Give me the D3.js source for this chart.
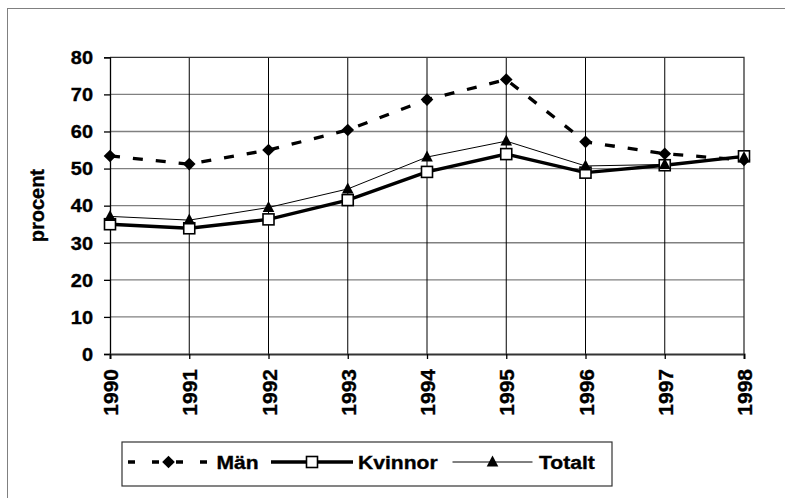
<!DOCTYPE html>
<html>
<head>
<meta charset="utf-8">
<script src="https://cdn.jsdelivr.net/npm/d3@7/dist/d3.min.js"></script>
<style>
  html, body { margin: 0; padding: 0; background: #fff; }
  svg { display: block; }
  text { font-family: "Liberation Sans", Arial, sans-serif; font-weight: bold; fill: #000; stroke: #000; stroke-width: 0.35px; }
</style>
</head>
<body>
<svg id="chart" width="785" height="498"></svg>
<script>
// Years on the category axis
const years = ["1990", "1991", "1992", "1993", "1994", "1995", "1996", "1997", "1998"];
// Share in percent per group
const man     = [53.4, 51.2, 55.0, 60.4, 68.6, 74.0, 57.2, 54.0, 52.3];
const kvinnor = [35.0, 33.9, 36.3, 41.5, 49.1, 53.9, 48.9, 50.9, 53.3];
const totalt  = [37.1, 36.1, 39.5, 44.5, 53.1, 57.4, 50.7, 51.1, 53.0];
const yTicks  = [0, 10, 20, 30, 40, 50, 60, 70, 80];
const seriesNames = ["Män", "Kvinnor", "Totalt"];

const svg = d3.select("#chart");
const plot = { left: 110, top: 57.3, right: 744, bottom: 354 };

// outer chart frame (runs off the right and bottom edges)
svg.append("rect")
  .attr("x", 7.5).attr("y", 8.5).attr("width", 900).attr("height", 600)
  .attr("fill", "#fff").attr("stroke", "#808080").attr("stroke-width", 1);

const x = d3.scalePoint().domain(years).range([plot.left, plot.right]).padding(0);
const y = d3.scaleLinear().domain([0, 80]).range([plot.bottom, plot.top]);

// horizontal gridlines
svg.append("g")
  .selectAll("line").data(yTicks.filter(t => t > 0 && t < 80)).join("line")
  .attr("x1", plot.left).attr("x2", plot.right)
  .attr("y1", d => y(d)).attr("y2", d => y(d))
  .attr("stroke", "#808080").attr("stroke-width", 1.3);

// vertical gridlines
svg.append("g")
  .selectAll("line").data(years.slice(1, -1)).join("line")
  .attr("x1", d => x(d)).attr("x2", d => x(d))
  .attr("y1", plot.top).attr("y2", plot.bottom)
  .attr("stroke", "#000").attr("stroke-width", 1);

// plot frame: top and right
svg.append("path")
  .attr("d", `M${plot.left},${plot.top}H${plot.right}V${plot.bottom}`)
  .attr("fill", "none").attr("stroke", "#333").attr("stroke-width", 1.3);

// y axis
const yAxis = svg.append("g")
  .attr("transform", `translate(${plot.left},0)`)
  .call(d3.axisLeft(y).tickValues(yTicks).tickSize(6).tickPadding(0).tickFormat(d3.format("d")));
yAxis.select(".domain").attr("stroke", "#000").attr("stroke-width", 1.3);
yAxis.selectAll(".tick line").attr("stroke", "#000").attr("stroke-width", 1.3);
yAxis.selectAll(".tick text")
  .attr("font-size", 17.5).attr("font-family", null)
  .attr("x", null).attr("dy", "0.36em")
  .attr("transform", "translate(-17,0) scale(1.14,1)");

// x axis
const xAxis = svg.append("g")
  .attr("transform", `translate(0,${plot.bottom})`)
  .call(d3.axisBottom(x).tickSize(5).tickPadding(0));
xAxis.select(".domain").attr("stroke", "#333").attr("stroke-width", 2);
xAxis.selectAll(".tick line").attr("stroke", "#000").attr("stroke-width", 1.3);
xAxis.selectAll(".tick text")
  .attr("font-size", 21).attr("font-family", null)
  .attr("y", null).attr("dy", null)
  .attr("text-anchor", "end")
  .attr("dominant-baseline", "central")
  .attr("transform", "translate(0,15) rotate(-90)");

// y axis title
svg.append("text")
  .attr("transform", `translate(37,${(plot.top + plot.bottom) / 2}) rotate(-90)`)
  .attr("text-anchor", "middle").attr("dominant-baseline", "central")
  .attr("font-size", 20)
  .text("procent");

const line = d3.line().x((d, i) => x(years[i])).y(d => y(d));

// marker shapes
const diamond = (g, cx, cy) => g.append("path")
  .attr("d", `M${cx},${cy - 6.3}L${cx + 6.3},${cy}L${cx},${cy + 6.3}L${cx - 6.3},${cy}Z`)
  .attr("fill", "#000");
const square = (g, cx, cy) => g.append("rect")
  .attr("x", cx - 5.5).attr("y", cy - 5.5).attr("width", 11).attr("height", 11)
  .attr("fill", "#fff").attr("stroke", "#000").attr("stroke-width", 1.6);
const triangle = (g, cx, cy) => g.append("path")
  .attr("d", `M${cx},${cy - 6.5}L${cx + 5.8},${cy + 4.5}L${cx - 5.8},${cy + 4.5}Z`)
  .attr("fill", "#000");

const series = [
  { name: seriesNames[0], values: man,     width: 3.3, dash: "10,13", marker: diamond },
  { name: seriesNames[1], values: kvinnor, width: 3.4, dash: null,    marker: square },
  { name: seriesNames[2], values: totalt,  width: 1,   dash: null,    marker: triangle }
];

series.forEach(s => {
  svg.append("path").datum(s.values)
    .attr("d", line).attr("fill", "none")
    .attr("stroke", "#000").attr("stroke-width", s.width)
    .attr("stroke-dasharray", s.dash);
});
series.forEach(s => {
  const g = svg.append("g");
  s.values.forEach((v, i) => s.marker(g, x(years[i]), y(v)));
});

// legend
const leg = svg.append("g");
leg.append("rect")
  .attr("x", 122).attr("y", 442).attr("width", 490).attr("height", 44)
  .attr("fill", "#fff").attr("stroke", "#333").attr("stroke-width", 1.2);

const legItems = [
  { s: series[0], x1: 128, x2: 209, tx: 216.5 },
  { s: series[1], x1: 271, x2: 353, tx: 358 },
  { s: series[2], x1: 452.5, x2: 532.5, tx: 539 }
];
const ly = 462;
legItems.forEach(it => {
  const g = leg.append("g");
  g.append("line")
    .attr("x1", it.x1).attr("x2", it.x2).attr("y1", ly).attr("y2", ly)
    .attr("stroke", "#000").attr("stroke-width", it.s.width)
    .attr("stroke-dasharray", it.s.dash ? "7,17" : null);
  it.s.marker(g, (it.x1 + it.x2) / 2, ly);
  g.append("text")
    .attr("transform", `translate(${it.tx},${ly}) scale(1.14,1)`)
    .attr("dominant-baseline", "central")
    .attr("font-size", 18.5)
    .text(it.s.name);
});
</script>
</body>
</html>
